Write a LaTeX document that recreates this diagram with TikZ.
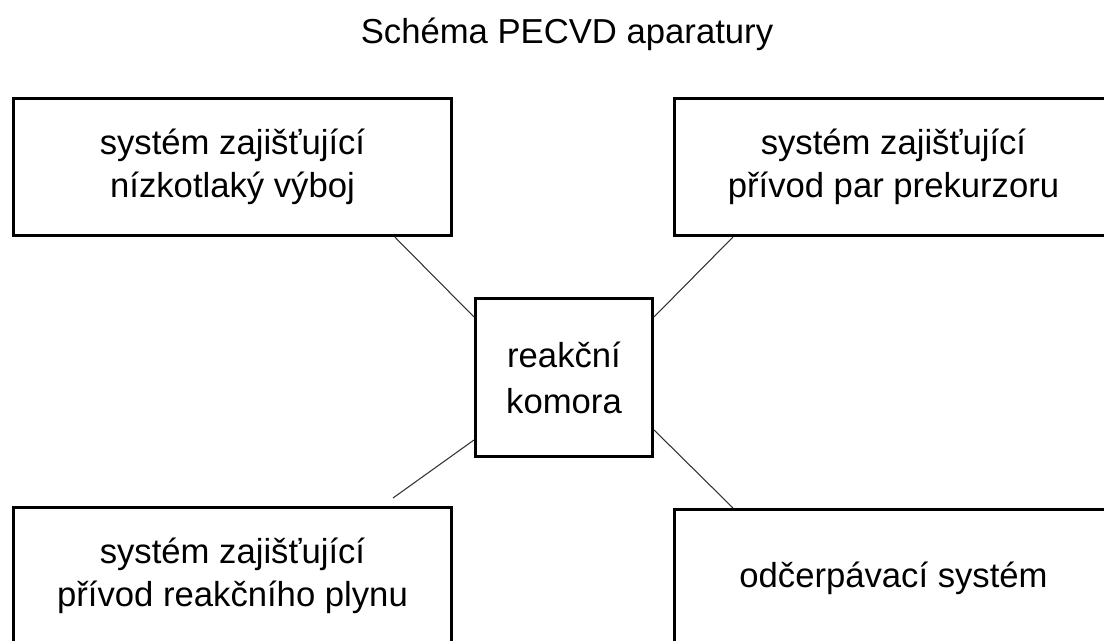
\documentclass[tikz,border=0pt]{standalone}
\usepackage{fontspec}
\setmainfont{Liberation Sans}
\usepackage{tikz}
\usetikzlibrary{calc}

\begin{document}
\begin{tikzpicture}[x=0.75pt, y=0.75pt,
        box/.style={draw, line width=2.4pt, minimum width=328.5pt, minimum height=102.75pt,
            inner sep=0pt, align=center, font=\fontsize{26}{32.5}\selectfont},
        link/.style={line width=0.8pt, black!80}]
    \path[use as bounding box, clip] (0,0) rectangle (1104,640);
    \node[anchor=base, font=\fontsize{26}{32}\selectfont] (nadpis) at (567,596) {Schéma PECVD aparatury};
    \node[box] (vyboj) at (232.5,473) {systém zajišťující\\nízkotlaký výboj};
    \node[box] (prekurzor) at (893.5,473) {systém zajišťující\\přívod par prekurzoru};
    \node[box] (plyn) at (232.5,64) {systém zajišťující\\přívod reakčního plynu};
    \node[box] (cerpani) at (893.5,62) {odčerpávací systém};
    \node[box, minimum width=132.75pt, minimum height=118.5pt,
        font=\fontsize{26}{34.5}\selectfont] (komora) at (564,262.5) {reakční\\komora};
    \coordinate (plynkonec) at (393,142);
    \draw[link] ($(vyboj.south west)!0.868!(vyboj.south east)$) -- ($(komora.north west)!0.124!(komora.south west)$);
    \draw[link] ($(prekurzor.south west)!0.136!(prekurzor.south east)$) -- ($(komora.north east)!0.124!(komora.south east)$);
    \draw[link] ($(komora.north west)!0.888!(komora.south west)$) -- (plynkonec);
    \draw[link] ($(komora.north east)!0.826!(komora.south east)$) -- ($(cerpani.north west)!0.136!(cerpani.north east)$);
\end{tikzpicture}
\end{document}
